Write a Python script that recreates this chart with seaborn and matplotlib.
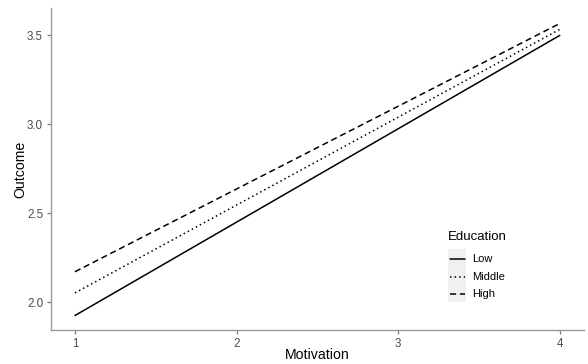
import matplotlib
matplotlib.use("Agg")
import matplotlib.pyplot as plt
from matplotlib.lines import Line2D
from matplotlib.patches import Rectangle
import seaborn as sns
import pandas as pd

education = ["Low", "Middle", "High"]
motivation = [1, 4]
outcome_low = [1.926, 3.500]
outcome_middle = [2.053, 3.534]
outcome_high = [2.172, 3.567]
x_ticks = [1, 2, 3, 4]
y_ticks = [2.0, 2.5, 3.0, 3.5]

rows = []
for edu, vals in zip(education, [outcome_low, outcome_middle, outcome_high]):
    for m, v in zip(motivation, vals):
        rows.append({"Motivation": m, "Outcome": v, "Education": edu})
df = pd.DataFrame(rows)

sns.set_style("white")
plt.rcParams["font.family"] = ["Liberation Sans", "DejaVu Sans"]

W, H = 588, 364
fig = plt.figure(figsize=(W / 100, H / 100), dpi=100)
ax = fig.add_axes([50.7 / W, 1 - 330 / H, (584 - 50.7) / W, (330 - 8.3) / H])

dash_map = {"Low": "", "Middle": (1, 2), "High": (4, 2.5)}
sns.lineplot(data=df, x="Motivation", y="Outcome", style="Education",
             style_order=education, dashes=dash_map, color="black",
             linewidth=1.1, legend=False, ax=ax)

ax.set_xlim(0.85, 4.15)
ax.set_ylim(1.8447, 3.6523)
ax.set_xticks(x_ticks)
ax.set_xticklabels([str(t) for t in x_ticks])
ax.set_yticks(y_ticks)
ax.set_yticklabels([f"{t:.1f}" for t in y_ticks])
ax.set_xlabel("")
ax.set_ylabel("")
for s in ["top", "right"]:
    ax.spines[s].set_visible(False)
for s in ["left", "bottom"]:
    ax.spines[s].set_color("#9a9a9a")
    ax.spines[s].set_linewidth(1.0)
ax.tick_params(axis="both", which="major", length=3, width=0.9, color="#7a7a7a",
               labelsize=8.4, labelcolor="#4d4d4d", pad=2.5, left=True, bottom=True)

fig.text(20.7 / W, 1 - 169 / H, "Outcome", rotation=90, ha="center", va="center",
         fontsize=10.2, color="black")
fig.text(317 / W, 1 - 355 / H, "Motivation", ha="center", va="center",
         fontsize=10.2, color="black")

# legend drawn manually
fig.text(448 / W, 1 - 237 / H, "Education", ha="left", va="center",
         fontsize=9.5, color="black")
fig.patches.append(Rectangle((448 / W, 1 - 301.7 / H), 17.7 / W, 52.4 / H,
                             transform=fig.transFigure, facecolor="#f0f0f0",
                             edgecolor="none", zorder=0))
key_y = [259, 276.5, 294]
for edu, ky in zip(education, key_y):
    ln = Line2D([449.5 / W, 464.5 / W], [1 - ky / H, 1 - ky / H],
                transform=fig.transFigure, color="black", linewidth=1.1)
    if dash_map[edu]:
        ln.set_dashes(dash_map[edu])
    fig.lines.append(ln)
    fig.text(472.3 / W, 1 - ky / H, edu, ha="left", va="center",
             fontsize=8.0, color="black")

fig.savefig("out.png", dpi=100)
